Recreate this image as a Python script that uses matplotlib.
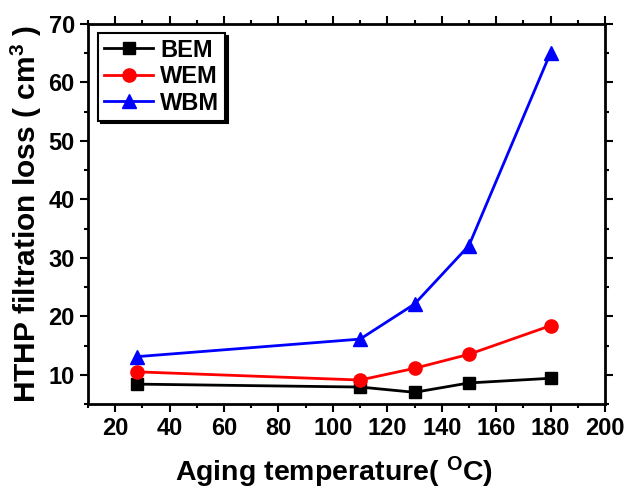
import matplotlib
matplotlib.use('Agg')
import matplotlib.pyplot as plt
from matplotlib.ticker import MultipleLocator

plt.rcParams['font.family'] = ['Liberation Sans', 'DejaVu Sans']
plt.rcParams['font.weight'] = 'bold'

temps = [28, 110, 130, 150, 180]
bem = [8.4, 7.9, 7.0, 8.6, 9.4]
wem = [10.5, 9.1, 11.1, 13.5, 18.4]
wbm = [13.1, 16.1, 22.1, 32.1, 65.1]

fig = plt.figure(figsize=(6.29, 4.92), dpi=100)
ax = fig.add_axes([88 / 629, 1 - 404 / 492, 517 / 629, 380 / 492])

ax.plot(temps, bem, '-s', color='black', lw=2, ms=9, label='BEM')
ax.plot(temps, wem, '-o', color='red', lw=2, ms=9.5, label='WEM')
ax.plot(temps, wbm, '-^', color='blue', lw=2, ms=10.5, label='WBM')

ax.set_xlim(10, 200)
ax.set_ylim(5, 70)
ax.xaxis.set_major_locator(MultipleLocator(20))
ax.xaxis.set_minor_locator(MultipleLocator(10))
ax.yaxis.set_minor_locator(MultipleLocator(5))
ax.set_yticks(range(10, 71, 10))

for s in ax.spines.values():
    s.set_linewidth(2)
ax.tick_params(which='both', width=1.5, labelsize=17, direction='out')
ax.tick_params(which='major', length=6)
ax.tick_params(which='minor', length=3)
ax.tick_params(which='both', top=True, right=True)
for lab in ax.get_xticklabels() + ax.get_yticklabels():
    lab.set_fontweight('bold')

ax.set_xlabel('Aging temperature( $\\mathregular{^{O}}$C)', fontsize=20.5, fontweight='bold')
ax.set_ylabel('HTHP filtration loss ( cm$\\mathregular{^{3}}$ )', fontsize=21.5, fontweight='bold')
ax.xaxis.set_label_coords(0.475, -0.133)
ax.yaxis.set_label_coords(-0.085, 0.5)

leg = ax.legend(loc='upper left', bbox_to_anchor=(0.019, 0.977), fontsize=17,
                frameon=True, fancybox=False, shadow={'color': 'black', 'alpha': 1},
                handlelength=2.1, borderpad=0.25, labelspacing=0.15, handletextpad=0.3,
                borderaxespad=0)
leg.get_frame().set_edgecolor('black')
leg.get_frame().set_linewidth(1.5)
for t in leg.get_texts():
    t.set_fontweight('bold')

fig.savefig('out.png', dpi=100)
